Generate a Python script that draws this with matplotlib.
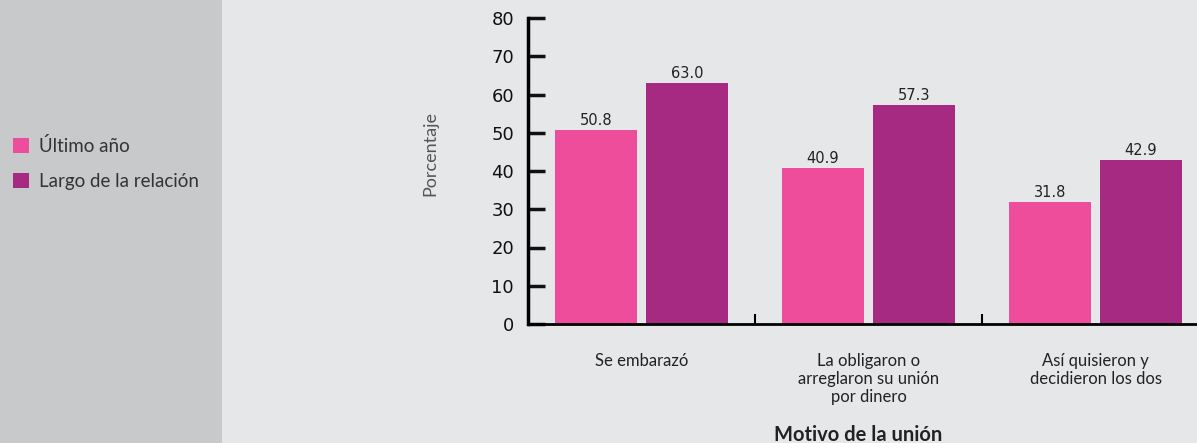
import matplotlib.pyplot as plt
from matplotlib.patches import Patch, Rectangle
import numpy as np

categories = ['Se embarazó', 'La obligaron o\narreglaron su unión\npor dinero', 'Así quisieron y\ndecidieron los dos']
ultimo_anio = [50.8, 40.9, 31.8]
largo_relacion = [63.0, 57.3, 42.9]
series_names = ['Último año', 'Largo de la relación']
yticks = [0, 10, 20, 30, 40, 50, 60, 70, 80]

pink = '#ee4d9b'
purple = '#a62a82'
label_font = ['Lato', 'DejaVu Sans']

fig = plt.figure(figsize=(11.97, 4.43), dpi=100)
fig.patch.set_facecolor('#e6e7e9')
fig.patches.append(Rectangle((0, 0), 222 / 1197, 1, transform=fig.transFigure,
                             facecolor='#c8c9cb', edgecolor='none', zorder=0))

ax = fig.add_axes([528 / 1197, 119 / 443, 681 / 1197, 306 / 443])
ax.set_facecolor('#e6e7e9')

x = np.arange(len(categories))
w = 0.36
b1 = ax.bar(x - 0.2, ultimo_anio, w, color=pink)
b2 = ax.bar(x + 0.2, largo_relacion, w, color=purple)
for bars, vals in ((b1, ultimo_anio), (b2, largo_relacion)):
    for bar, v in zip(bars, vals):
        ax.text(bar.get_x() + bar.get_width() / 2, v + 0.5, f'{v:.1f}',
                ha='center', va='bottom', fontsize=10.5, color='#222222')

ax.set_xlim(-0.5, 2.5)
ax.set_ylim(0, 80)
ax.set_yticks(yticks)
ax.tick_params(axis='y', direction='in', length=12, width=2.5, labelsize=13,
               pad=10, colors='#111111')
ax.set_xticks(x)
ax.set_xticklabels(categories, fontsize=12, family=label_font, color='#222222',
                   linespacing=1.15)
ax.tick_params(axis='x', length=0, pad=21)
ax.set_xticks([0.5, 1.5], minor=True)
ax.tick_params(axis='x', which='minor', direction='in', length=7, width=1.5)

for s in ['top', 'right']:
    ax.spines[s].set_visible(False)
ax.spines['left'].set_linewidth(2.5)
ax.spines['bottom'].set_linewidth(2)

fig.text(430 / 1197, 1 - 153 / 443, 'Porcentaje', rotation=90, ha='center',
         va='center', fontsize=13, color='#555555', family=label_font)
fig.text(858 / 1197, 1 - 435 / 443, 'Motivo de la unión', ha='center',
         va='center', fontsize=14.5, fontweight='bold', color='#222222', family=label_font)

handles = [Patch(facecolor=pink, label=series_names[0]),
           Patch(facecolor=purple, label=series_names[1])]
fig.legend(handles=handles, loc='upper left', bbox_to_anchor=(-4 / 1197, 1 - 120 / 443),
           frameon=False, handlelength=0.85, handleheight=0.85, handletextpad=0.55,
           labelspacing=0.95, prop={'family': label_font, 'size': 13.5},
           labelcolor='#333333')

fig.savefig('out.png', dpi=100, facecolor=fig.get_facecolor())
